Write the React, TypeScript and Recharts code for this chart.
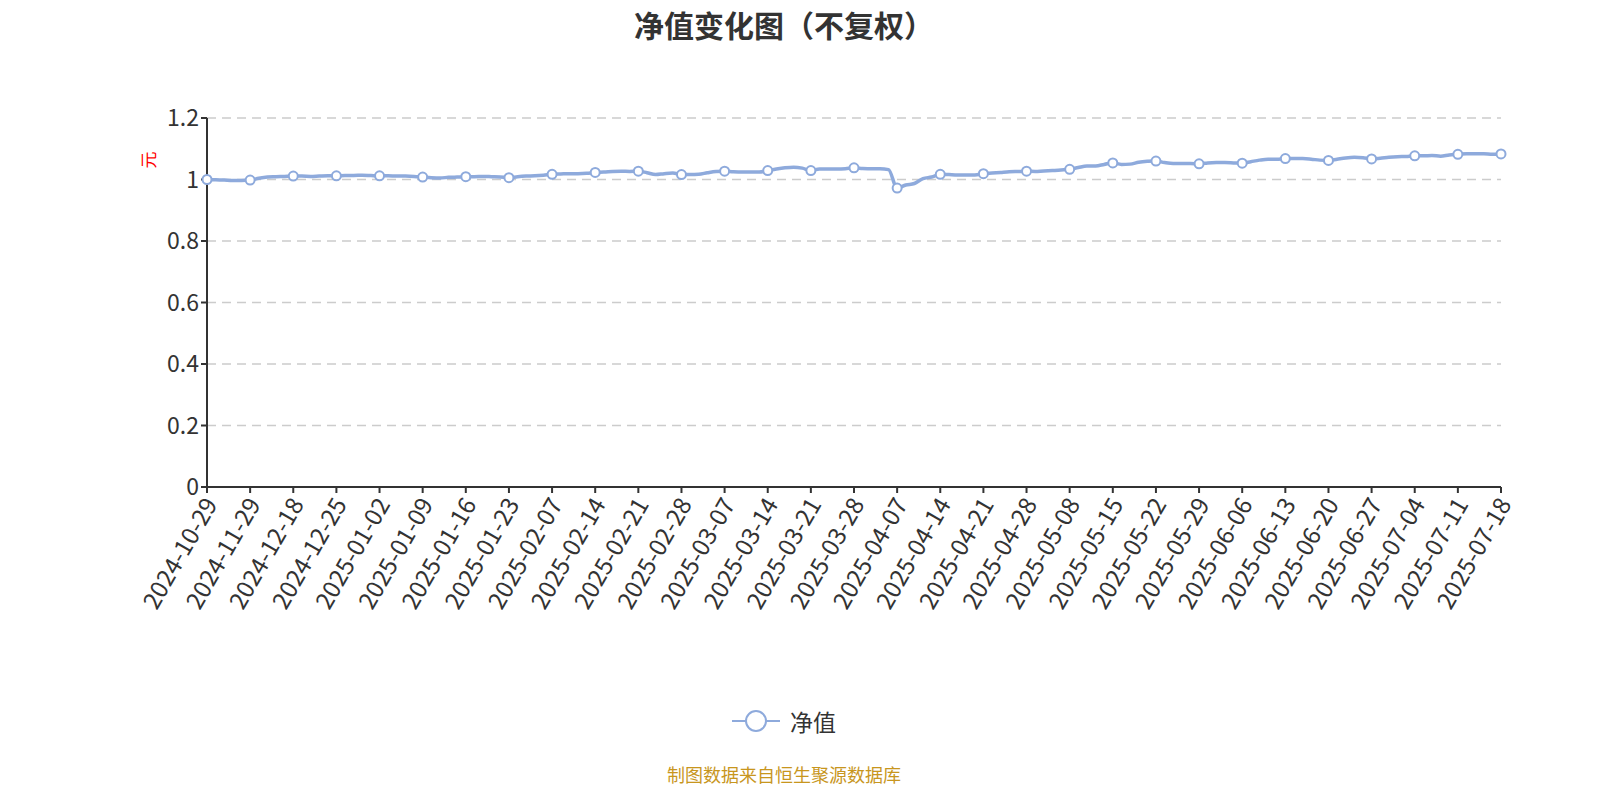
import React from 'react';
import { LineChart, Line, XAxis, YAxis, CartesianGrid, Legend } from 'recharts';

const dates = [
  '2024-10-29', '2024-11-05', '2024-11-12', '2024-11-19', '2024-11-26',
  '2024-11-29', '2024-12-03', '2024-12-06', '2024-12-10', '2024-12-13',
  '2024-12-18', '2024-12-19', '2024-12-20', '2024-12-23', '2024-12-24',
  '2024-12-25', '2024-12-26', '2024-12-27', '2024-12-30', '2024-12-31',
  '2025-01-02', '2025-01-03', '2025-01-06', '2025-01-07', '2025-01-08',
  '2025-01-09', '2025-01-10', '2025-01-13', '2025-01-14', '2025-01-15',
  '2025-01-16', '2025-01-17', '2025-01-20', '2025-01-21', '2025-01-22',
  '2025-01-23', '2025-01-24', '2025-01-27', '2025-02-05', '2025-02-06',
  '2025-02-07', '2025-02-10', '2025-02-11', '2025-02-12', '2025-02-13',
  '2025-02-14', '2025-02-17', '2025-02-18', '2025-02-19', '2025-02-20',
  '2025-02-21', '2025-02-24', '2025-02-25', '2025-02-26', '2025-02-27',
  '2025-02-28', '2025-03-03', '2025-03-04', '2025-03-05', '2025-03-06',
  '2025-03-07', '2025-03-10', '2025-03-11', '2025-03-12', '2025-03-13',
  '2025-03-14', '2025-03-17', '2025-03-18', '2025-03-19', '2025-03-20',
  '2025-03-21', '2025-03-24', '2025-03-25', '2025-03-26', '2025-03-27',
  '2025-03-28', '2025-03-31', '2025-04-01', '2025-04-02', '2025-04-03',
  '2025-04-07', '2025-04-08', '2025-04-09', '2025-04-10', '2025-04-11',
  '2025-04-14', '2025-04-15', '2025-04-16', '2025-04-17', '2025-04-18',
  '2025-04-21', '2025-04-22', '2025-04-23', '2025-04-24', '2025-04-25',
  '2025-04-28', '2025-04-29', '2025-04-30', '2025-05-06', '2025-05-07',
  '2025-05-08', '2025-05-09', '2025-05-12', '2025-05-13', '2025-05-14',
  '2025-05-15', '2025-05-16', '2025-05-19', '2025-05-20', '2025-05-21',
  '2025-05-22', '2025-05-23', '2025-05-26', '2025-05-27', '2025-05-28',
  '2025-05-29', '2025-05-30', '2025-06-03', '2025-06-04', '2025-06-05',
  '2025-06-06', '2025-06-09', '2025-06-10', '2025-06-11', '2025-06-12',
  '2025-06-13', '2025-06-16', '2025-06-17', '2025-06-18', '2025-06-19',
  '2025-06-20', '2025-06-23', '2025-06-24', '2025-06-25', '2025-06-26',
  '2025-06-27', '2025-06-30', '2025-07-01', '2025-07-02', '2025-07-03',
  '2025-07-04', '2025-07-07', '2025-07-08', '2025-07-09', '2025-07-10',
  '2025-07-11', '2025-07-14', '2025-07-15', '2025-07-16', '2025-07-17',
  '2025-07-18',
];

// 单位净值（元）
const navValues = [
  1.000, 0.999, 0.998, 0.997, 0.997,
  0.998, 1.004, 1.008, 1.009, 1.010,
  1.011, 1.011, 1.010, 1.011, 1.012,
  1.012, 1.013, 1.013, 1.014, 1.013,
  1.012, 1.012, 1.011, 1.011, 1.010,
  1.008, 1.006, 1.005, 1.007, 1.008,
  1.009, 1.009, 1.010, 1.009, 1.008,
  1.006, 1.009, 1.011, 1.012, 1.014,
  1.017, 1.018, 1.019, 1.019, 1.020,
  1.023, 1.024, 1.026, 1.027, 1.026,
  1.027, 1.022, 1.016, 1.019, 1.021,
  1.016, 1.016, 1.017, 1.022, 1.026,
  1.027, 1.025, 1.024, 1.024, 1.024,
  1.029, 1.034, 1.038, 1.040, 1.037,
  1.029, 1.034, 1.034, 1.034, 1.035,
  1.038, 1.036, 1.035, 1.035, 1.032,
  0.972, 0.982, 0.987, 1.003, 1.008,
  1.017, 1.016, 1.015, 1.015, 1.015,
  1.019, 1.021, 1.023, 1.025, 1.026,
  1.027, 1.026, 1.028, 1.029, 1.031,
  1.033, 1.039, 1.044, 1.044, 1.049,
  1.054, 1.049, 1.050, 1.056, 1.059,
  1.060, 1.055, 1.052, 1.052, 1.052,
  1.051, 1.054, 1.055, 1.055, 1.054,
  1.053, 1.058, 1.063, 1.066, 1.066,
  1.068, 1.068, 1.068, 1.066, 1.063,
  1.062, 1.066, 1.070, 1.072, 1.071,
  1.067, 1.069, 1.072, 1.074, 1.075,
  1.077, 1.077, 1.078, 1.076, 1.080,
  1.082, 1.084, 1.084, 1.084, 1.082,
  1.083,
];

const yTicks = [0, 0.2, 0.4, 0.6, 0.8, 1, 1.2];

const data = dates.map((date, i) => ({ date, nav: navValues[i] }));

const LINE_COLOR = '#8eaadc';
const AXIS_COLOR = '#333';
const FONT = '"Noto Sans CJK SC", "Noto Sans", sans-serif';

function DateTick({ x, y, payload }: any) {
  return (
    <g transform={`translate(${x + 4},${y + 5})`}>
      <text
        x={0}
        y={0}
        dy="0.35em"
        textAnchor="end"
        transform="rotate(-60)"
        fill={AXIS_COLOR}
        fontSize={24}
      >
        {payload.value}
      </text>
    </g>
  );
}

function SparseDot({ cx, cy, index }: any) {
  if (index % 5 !== 0) return <g key={index} />;
  return (
    <circle
      key={index}
      cx={cx}
      cy={cy}
      r={4.5}
      fill="#fff"
      stroke={LINE_COLOR}
      strokeWidth={2}
    />
  );
}

function LegendContent() {
  return (
    <div
      style={{
        height: 40,
        display: 'flex',
        alignItems: 'center',
        justifyContent: 'center',
        paddingRight: 32,
      }}
    >
      <svg width={48} height={26}>
        <line x1={0} y1={13} x2={48} y2={13} stroke={LINE_COLOR} strokeWidth={2} />
        <circle cx={24} cy={13} r={10} fill="#fff" stroke={LINE_COLOR} strokeWidth={2} />
      </svg>
      <span style={{ marginLeft: 10, fontSize: 23, color: AXIS_COLOR }}>净值</span>
    </div>
  );
}

export default function App() {
  return (
    <div
      style={{
        position: 'relative',
        width: 1600,
        height: 800,
        fontFamily: FONT,
        background: '#fff',
      }}
    >
      <style>{'body { margin: 0; }'}</style>
      <div
        style={{
          position: 'absolute',
          top: 2,
          left: 0,
          width: 1568,
          textAlign: 'center',
          fontSize: 30,
          fontWeight: 'bold',
          color: AXIS_COLOR,
        }}
      >
        净值变化图（不复权）
      </div>
      <LineChart
        width={1600}
        height={800}
        data={data}
        margin={{ top: 118, right: 99, bottom: 123, left: 0 }}
      >
        <CartesianGrid
          vertical={false}
          stroke="#cccccc"
          strokeDasharray="9 6"
          strokeWidth={1.5}
        />
        <XAxis
          dataKey="date"
          interval={4}
          height={150}
          tick={<DateTick />}
          tickSize={6}
          tickLine={{ stroke: AXIS_COLOR, strokeWidth: 2 }}
          axisLine={{ stroke: AXIS_COLOR, strokeWidth: 2 }}
        />
        <YAxis
          width={207}
          domain={[0, 1.2]}
          ticks={yTicks}
          tickSize={6}
          tick={{ fill: AXIS_COLOR, fontSize: 23 }}
          tickLine={{ stroke: AXIS_COLOR, strokeWidth: 2 }}
          axisLine={{ stroke: AXIS_COLOR, strokeWidth: 2 }}
          label={({ viewBox }: any) => (
            <text
              x={viewBox.x + 147}
              y={viewBox.y + 42}
              fill="#ff0000"
              fontSize={17}
              textAnchor="middle"
              dominantBaseline="central"
              transform={`rotate(-90, ${viewBox.x + 147}, ${viewBox.y + 42})`}
            >
              元
            </text>
          )}
        />
        <Legend
          verticalAlign="bottom"
          content={<LegendContent />}
          wrapperStyle={{ top: 701, bottom: 'auto', left: 0, width: 1600 }}
        />
        <Line
          type="monotone"
          dataKey="nav"
          name="净值"
          stroke={LINE_COLOR}
          strokeWidth={3.5}
          dot={<SparseDot />}
          activeDot={false}
          isAnimationActive={false}
        />
      </LineChart>
      <div
        style={{
          position: 'absolute',
          top: 761,
          left: 0,
          width: 1568,
          textAlign: 'center',
          fontSize: 18,
          color: '#c8961e',
        }}
      >
        制图数据来自恒生聚源数据库
      </div>
    </div>
  );
}
